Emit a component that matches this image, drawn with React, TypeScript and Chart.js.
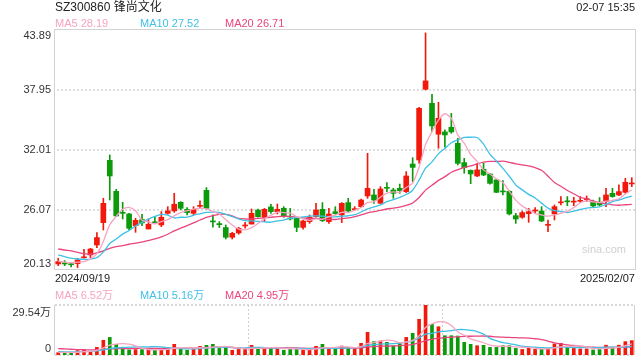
import React, { useEffect, useRef } from "react";
import { Chart, registerables } from "chart.js";

Chart.register(...registerables);

const FONT = '"Liberation Sans", Arial, "Noto Sans CJK SC", sans-serif';

const dates = [
  "2024/09/19", "2024/09/20", "2024/09/23", "2024/09/24", "2024/09/25", "2024/09/26", "2024/09/27", "2024/09/30",
  "2024/10/08", "2024/10/09", "2024/10/10", "2024/10/11", "2024/10/14", "2024/10/15", "2024/10/16", "2024/10/17",
  "2024/10/18", "2024/10/21", "2024/10/22", "2024/10/23", "2024/10/24", "2024/10/25", "2024/10/28", "2024/10/29",
  "2024/10/30", "2024/10/31", "2024/11/01", "2024/11/04", "2024/11/05", "2024/11/06", "2024/11/07", "2024/11/08",
  "2024/11/11", "2024/11/12", "2024/11/13", "2024/11/14", "2024/11/15", "2024/11/18", "2024/11/19", "2024/11/20",
  "2024/11/21", "2024/11/22", "2024/11/25", "2024/11/26", "2024/11/27", "2024/11/28", "2024/11/29", "2024/12/02",
  "2024/12/03", "2024/12/04", "2024/12/05", "2024/12/06", "2024/12/09", "2024/12/10", "2024/12/11", "2024/12/12",
  "2024/12/13", "2024/12/16", "2024/12/17", "2024/12/18", "2024/12/19", "2024/12/20", "2024/12/23", "2024/12/24",
  "2024/12/25", "2024/12/26", "2024/12/27", "2024/12/30", "2024/12/31", "2025/01/02", "2025/01/03", "2025/01/06",
  "2025/01/07", "2025/01/08", "2025/01/09", "2025/01/10", "2025/01/13", "2025/01/14", "2025/01/15", "2025/01/16",
  "2025/01/17", "2025/01/20", "2025/01/21", "2025/01/22", "2025/01/23", "2025/01/24", "2025/01/27", "2025/02/05",
  "2025/02/06", "2025/02/07",
];

const opens = [
  20.73, 20.86, 20.70, 20.76, 21.34, 21.62, 22.61, 24.82, 30.99, 27.92,
  25.84, 25.68, 24.52, 25.12, 24.19, 24.85, 24.59, 25.74, 25.98, 26.83,
  26.14, 25.74, 26.43, 28.02, 24.95, 24.72, 24.33, 23.37, 23.80, 24.49,
  24.68, 26.07, 25.35, 26.37, 25.91, 26.24, 25.22, 25.25, 24.35, 24.92,
  25.41, 26.14, 24.92, 25.90, 25.58, 26.80, 26.10, 26.40, 27.46, 27.56,
  26.73, 28.29, 28.05, 28.22, 27.89, 30.62, 31.02, 38.02, 36.63, 33.57,
  33.80, 34.26, 32.67, 30.76, 30.00, 29.44, 30.10, 29.64, 29.05, 27.90,
  27.92, 25.51, 25.35, 25.71, 25.97, 25.97, 24.55, 25.68, 26.78, 26.93,
  26.85, 26.93, 27.10, 26.90, 26.83, 26.90, 27.72, 27.56, 27.82, 28.65,
];
const highs = [
  21.29, 21.06, 20.89, 21.29, 22.18, 22.28, 23.83, 27.23, 31.52, 28.12,
  26.83, 25.74, 25.25, 25.65, 25.18, 25.41, 25.91, 26.40, 27.73, 26.90,
  26.31, 26.40, 26.97, 28.29, 25.58, 24.92, 24.59, 23.86, 24.36, 24.85,
  26.17, 26.17, 26.23, 26.63, 26.66, 26.40, 26.23, 25.35, 25.08, 25.58,
  26.73, 26.80, 26.23, 26.40, 26.80, 27.23, 26.40, 27.16, 31.68, 28.12,
  28.38, 28.78, 28.22, 28.64, 29.87, 31.25, 36.23, 43.60, 37.53, 36.73,
  34.00, 35.64, 33.17, 31.19, 30.04, 30.69, 30.69, 29.71, 29.11, 28.98,
  27.99, 25.74, 25.97, 26.24, 26.30, 26.40, 25.08, 26.57, 27.40, 27.40,
  27.33, 27.40, 27.46, 27.06, 27.30, 28.22, 28.22, 28.55, 29.21, 29.27,
];
const lows = [
  20.56, 20.56, 20.43, 20.37, 21.29, 21.36, 22.35, 24.09, 27.06, 25.42,
  25.18, 24.09, 23.86, 24.52, 24.19, 24.75, 24.42, 25.65, 25.84, 26.08,
  25.58, 25.58, 26.24, 26.17, 24.36, 24.33, 23.20, 23.20, 23.67, 24.26,
  24.68, 25.35, 24.91, 25.74, 25.67, 25.35, 25.08, 23.92, 24.16, 24.75,
  25.35, 24.92, 24.75, 25.64, 24.82, 25.90, 26.00, 26.33, 27.23, 26.73,
  26.73, 27.88, 27.23, 27.72, 27.79, 28.88, 30.69, 37.96, 33.83, 32.18,
  32.30, 33.66, 30.53, 29.71, 28.68, 29.38, 29.47, 28.62, 27.79, 27.56,
  25.58, 24.75, 25.25, 24.85, 25.74, 24.92, 23.93, 25.08, 26.57, 26.50,
  26.50, 26.83, 26.90, 26.40, 26.50, 26.40, 27.33, 27.50, 27.72, 28.38,
];
const closes = [
  20.96, 20.73, 20.65, 21.12, 21.39, 22.21, 23.34, 26.73, 29.44, 25.48,
  25.74, 24.26, 25.05, 24.79, 24.66, 24.80, 25.35, 25.98, 26.64, 26.24,
  25.81, 26.14, 26.47, 26.24, 24.89, 24.62, 23.37, 23.76, 24.26, 24.52,
  25.74, 25.41, 26.14, 25.91, 26.14, 25.41, 25.18, 24.35, 24.98, 25.35,
  26.07, 25.02, 25.67, 25.71, 26.73, 25.97, 26.14, 27.06, 28.22, 27.06,
  28.15, 28.22, 27.72, 27.99, 29.44, 30.29, 36.14, 38.85, 34.39, 35.15,
  33.50, 33.80, 30.69, 30.27, 29.64, 30.04, 29.54, 28.71, 27.82, 27.86,
  25.68, 25.18, 25.81, 25.91, 26.00, 24.98, 24.59, 26.40, 26.80, 26.88,
  26.90, 26.97, 27.13, 26.47, 26.57, 27.56, 27.40, 27.89, 28.81, 28.71,
];

const ma5 = [
  21.00, 20.90, 20.85, 20.90, 20.97, 21.22, 21.74, 22.96, 24.62, 25.44,
  26.15, 26.33, 25.99, 25.06, 24.90, 24.71, 24.93, 25.12, 25.49, 25.80,
  26.00, 26.16, 26.26, 26.18, 25.91, 25.67, 25.12, 24.58, 24.18, 24.11,
  24.33, 24.74, 25.21, 25.54, 25.87, 25.80, 25.76, 25.40, 25.21, 25.05,
  25.19, 25.15, 25.42, 25.56, 25.84, 25.82, 26.04, 26.32, 26.82, 26.89,
  27.33, 27.74, 27.87, 27.83, 28.30, 28.73, 30.32, 32.54, 33.82, 34.96,
  35.60, 35.14, 33.51, 32.68, 31.58, 30.89, 30.04, 29.64, 29.15, 28.79,
  27.92, 27.05, 26.47, 26.09, 25.72, 25.58, 25.46, 25.58, 25.75, 25.93,
  26.31, 26.79, 26.94, 26.87, 26.81, 26.94, 27.03, 27.18, 27.65, 28.07,
];
const ma10 = [
  21.62, 21.45, 21.30, 21.22, 21.18, 21.20, 21.35, 21.90, 22.75, 23.20,
  23.68, 24.04, 24.48, 24.84, 25.17, 25.43, 25.63, 25.56, 25.28, 25.35,
  25.36, 25.55, 25.69, 25.83, 25.86, 25.84, 25.64, 25.42, 25.18, 25.01,
  25.00, 24.93, 24.90, 24.86, 24.99, 25.07, 25.25, 25.31, 25.38, 25.46,
  25.49, 25.46, 25.41, 25.39, 25.45, 25.50, 25.60, 25.87, 26.19, 26.37,
  26.57, 26.89, 27.10, 27.33, 27.60, 28.03, 29.03, 30.21, 30.83, 31.63,
  32.17, 32.73, 33.02, 33.25, 33.27, 33.25, 32.59, 31.57, 30.92, 30.19,
  29.41, 28.54, 28.06, 27.62, 27.26, 26.75, 26.25, 26.02, 25.92, 25.82,
  25.95, 26.12, 26.26, 26.31, 26.37, 26.63, 26.91, 27.06, 27.26, 27.44,
];
const ma20 = [
  22.21, 22.11, 22.02, 21.88, 21.75, 21.69, 21.82, 22.02, 22.28, 22.45,
  22.54, 22.68, 22.78, 22.91, 23.04, 23.20, 23.40, 23.67, 24.00, 24.28,
  24.52, 24.79, 25.08, 25.34, 25.51, 25.63, 25.64, 25.49, 25.23, 25.18,
  25.18, 25.24, 25.29, 25.35, 25.42, 25.45, 25.44, 25.36, 25.28, 25.23,
  25.25, 25.19, 25.15, 25.13, 25.22, 25.28, 25.42, 25.59, 25.79, 25.91,
  26.03, 26.17, 26.25, 26.36, 26.52, 26.77, 27.31, 28.04, 28.51, 29.00,
  29.37, 29.81, 30.06, 30.29, 30.43, 30.64, 30.81, 30.89, 30.87, 30.91,
  30.79, 30.64, 30.54, 30.44, 30.26, 30.00, 29.42, 28.80, 28.42, 28.00,
  27.68, 27.33, 27.16, 26.97, 26.81, 26.69, 26.58, 26.54, 26.59, 26.63,
];

// volume in 万
const volumes = [
  1.4, 1.4, 1.4, 2.6, 3.3, 2.0, 4.5, 8.7, 10.4, 6.3,
  3.9, 3.0, 3.2, 3.2, 3.0, 2.8, 3.5, 4.3, 6.3, 3.9,
  2.8, 3.3, 5.1, 5.7, 6.3, 3.9, 4.7, 2.8, 3.3, 3.5,
  5.7, 4.1, 4.1, 4.1, 4.1, 2.8, 3.5, 3.5, 2.8, 3.3,
  5.1, 6.3, 4.1, 3.9, 5.3, 4.3, 4.3, 6.9, 13.4, 7.9,
  8.3, 7.5, 5.3, 7.3, 10.4, 12.8, 21.1, 29.54, 18.1, 16.7,
  11.4, 11.4, 11.2, 7.5, 6.3, 5.5, 5.7, 4.5, 4.5, 5.5,
  5.5, 3.9, 3.3, 4.1, 3.3, 3.3, 3.9, 6.5, 6.9, 4.9,
  4.3, 3.6, 3.6, 3.0, 3.5, 5.8, 4.6, 5.8, 7.9, 8.5,
];
const volMa5 = [
  1.6, 1.5, 1.5, 1.6, 2.02, 2.14, 2.76, 4.22, 5.78, 6.38,
  6.76, 6.46, 5.36, 3.92, 3.26, 3.04, 3.14, 3.36, 3.98, 4.16,
  4.16, 4.12, 4.28, 4.16, 4.64, 4.86, 5.14, 4.68, 4.2, 3.64,
  4.0, 3.88, 4.14, 4.3, 4.42, 3.84, 3.72, 3.6, 3.34, 3.18,
  3.64, 4.2, 4.32, 4.54, 4.94, 4.78, 4.38, 4.94, 6.84, 7.36,
  8.16, 8.8, 8.48, 7.26, 7.76, 8.66, 11.38, 16.23, 18.39, 19.65,
  19.37, 17.43, 13.76, 11.64, 9.56, 8.38, 7.24, 5.9, 5.3, 5.14,
  5.14, 4.78, 4.54, 4.46, 4.02, 3.58, 3.58, 4.22, 4.78, 5.1,
  5.3, 5.24, 4.66, 3.88, 3.6, 3.9, 4.1, 4.54, 5.52, 6.52,
];
const volMa10 = [
  2.0, 1.9, 1.9, 1.9, 2.0, 2.1, 2.4, 3.0, 3.8, 4.2,
  4.45, 4.61, 4.79, 4.85, 4.82, 4.9, 4.8, 4.36, 3.95, 3.71,
  3.6, 3.63, 3.82, 4.07, 4.4, 4.51, 4.63, 4.48, 4.18, 4.14,
  4.43, 4.51, 4.41, 4.25, 4.03, 3.92, 3.8, 3.87, 3.82, 3.8,
  3.74, 3.96, 3.96, 3.94, 4.06, 4.21, 4.29, 4.63, 5.69, 6.15,
  6.47, 6.59, 6.71, 7.05, 7.56, 8.41, 10.09, 12.35, 12.82, 13.7,
  14.01, 14.4, 14.99, 15.01, 14.6, 13.87, 12.33, 9.83, 8.47, 7.35,
  6.76, 6.01, 5.22, 4.88, 4.58, 4.36, 4.18, 4.38, 4.62, 4.56,
  4.44, 4.41, 4.44, 4.33, 4.35, 4.6, 4.67, 4.6, 4.7, 5.06,
];
const volMa20 = [
  3.8, 3.6, 3.4, 3.2, 3.1, 3.0, 3.1, 3.3, 3.6, 3.7,
  3.8, 3.8, 3.9, 3.9, 3.9, 3.9, 3.9, 3.9, 4.0, 3.96,
  4.03, 4.12, 4.31, 4.46, 4.61, 4.71, 4.72, 4.42, 4.07, 3.93,
  4.02, 4.07, 4.12, 4.16, 4.22, 4.22, 4.22, 4.18, 4.0, 3.97,
  4.09, 4.24, 4.19, 4.1, 4.05, 4.07, 4.05, 4.25, 4.76, 4.98,
  5.11, 5.28, 5.34, 5.5, 5.81, 6.31, 7.19, 8.49, 9.26, 9.93,
  10.24, 10.5, 10.85, 11.03, 11.08, 11.14, 11.21, 11.09, 10.65, 10.53,
  10.39, 10.21, 10.11, 9.95, 9.59, 9.12, 8.26, 7.1, 6.55, 5.96,
  5.6, 5.21, 4.83, 4.61, 4.47, 4.48, 4.43, 4.49, 4.66, 4.81,
];

const priceTicks = [20.13, 26.07, 32.01, 37.95, 43.89];
const priceTickLabels = ["20.13", "26.07", "32.01", "37.95", "43.89"];
const volumeTicks = [0, 29.54];
const volumeTickLabels = ["0", "29.54万"];

const title = "SZ300860 锋尚文化";
const timeText = "02-07 15:35";
const priceLegend = [
  { name: "MA5", value: "28.19" },
  { name: "MA10", value: "27.52" },
  { name: "MA20", value: "26.71" },
];
const volumeLegend = [
  { name: "MA5", value: "6.52万" },
  { name: "MA10", value: "5.16万" },
  { name: "MA20", value: "4.95万" },
];

const UP = "#f2190c";
const DOWN = "#0a9a0a";
const MA5C = "#f6a4c1";
const MA10C = "#3fc1e6";
const MA20C = "#e9457e";
const LEG_COLORS = [MA5C, MA10C, MA20C];
const LEG_X = [55, 140, 225];

const candleColors = closes.map((c, i) => (c >= opens[i] ? UP : DOWN));

const mainFrame = {
  id: "mainFrame",
  beforeDatasetsDraw(chart: any) {
    const { ctx, chartArea: a } = chart;
    const y = chart.scales.y;
    ctx.save();
    ctx.setLineDash([2, 2]);
    ctx.strokeStyle = "#dedede";
    ctx.lineWidth = 2;
    priceTicks.slice(1, -1).forEach((v) => {
      const py = Math.round(y.getPixelForValue(v));
      ctx.beginPath();
      ctx.moveTo(a.left + 2, py);
      ctx.lineTo(a.right, py);
      ctx.stroke();
    });
    ctx.setLineDash([]);
    ctx.strokeStyle = "#d2d2d2";
    ctx.lineWidth = 1;
    ctx.strokeRect(
      Math.round(a.left) - 0.5,
      Math.round(a.top) - 0.5,
      Math.round(a.right - a.left) + 1,
      Math.round(a.bottom - a.top)
    );
    ctx.fillStyle = "#333";
    ctx.font = "11px " + FONT;
    ctx.textAlign = "right";
    priceTicks.forEach((v, k) => {
      const py = y.getPixelForValue(v);
      const label = priceTickLabels[k];
      if (k === priceTicks.length - 1) {
        ctx.textBaseline = "top";
        ctx.fillText(label, a.left - 4, py);
      } else if (k === 0) {
        ctx.textBaseline = "alphabetic";
        ctx.fillText(label, a.left - 4, py - 3);
      } else {
        ctx.textBaseline = "middle";
        ctx.fillText(label, a.left - 4, py);
      }
    });
    ctx.restore();
  },
};

const volFrame = {
  id: "volFrame",
  beforeDatasetsDraw(chart: any) {
    const { ctx, chartArea: a } = chart;
    const y = chart.scales.y;
    ctx.save();
    ctx.setLineDash([2, 2]);
    ctx.strokeStyle = "#d8d8d8";
    ctx.lineWidth = 2;
    [a.top, a.bottom].forEach((py) => {
      ctx.beginPath();
      ctx.moveTo(a.left, Math.round(py));
      ctx.lineTo(a.right, Math.round(py));
      ctx.stroke();
    });
    ctx.lineWidth = 1;
    ctx.strokeStyle = "#cfcfcf";
    [1, 2].forEach((k) => {
      const px = Math.round(a.left + ((a.right - a.left) * k) / 3) + 0.5;
      ctx.beginPath();
      ctx.moveTo(px, a.top);
      ctx.lineTo(px, a.bottom);
      ctx.stroke();
    });
    ctx.setLineDash([]);
    ctx.strokeStyle = "#d2d2d2";
    [a.left, a.right].forEach((px) => {
      ctx.beginPath();
      ctx.moveTo(Math.round(px) - 0.5, a.top);
      ctx.lineTo(Math.round(px) - 0.5, a.bottom);
      ctx.stroke();
    });
    ctx.fillStyle = "#333";
    ctx.font = "11px " + FONT;
    ctx.textAlign = "right";
    volumeTicks.forEach((v, k) => {
      const py = y.getPixelForValue(v);
      if (k === 0) {
        ctx.textBaseline = "alphabetic";
        ctx.fillText(volumeTickLabels[k], a.left - 4, py - 3);
      } else {
        ctx.textBaseline = "top";
        ctx.fillText(volumeTickLabels[k], a.left - 4, py + 2);
      }
    });
    ctx.restore();
  },
};

function lineDs(data: number[], color: string, tension: number) {
  return {
    type: "line" as const,
    data,
    borderColor: color,
    borderWidth: 1.3,
    pointRadius: 0,
    tension,
    fill: false,
    order: 0,
  };
}

export default function App() {
  const mainRef = useRef<HTMLCanvasElement>(null);
  const volRef = useRef<HTMLCanvasElement>(null);

  useEffect(() => {
    document.body.style.margin = "0";
    const main = new Chart(mainRef.current as HTMLCanvasElement, {
      type: "bar",
      data: {
        labels: dates,
        datasets: [
          lineDs(ma5, MA5C, 0.25),
          lineDs(ma10, MA10C, 0.25),
          lineDs(ma20, MA20C, 0.25),
          {
            type: "bar",
            data: opens.map((o, i) => [o, closes[i]]),
            backgroundColor: candleColors,
            barThickness: 5,
            minBarLength: 1,
            grouped: false,
            order: 1,
          } as any,
          {
            type: "bar",
            data: lows.map((l, i) => [l, highs[i]]),
            backgroundColor: candleColors,
            barThickness: 1,
            grouped: false,
            order: 2,
          } as any,
        ],
      },
      options: {
        responsive: false,
        animation: false,
        devicePixelRatio: 1,
        layout: { padding: { left: 55, right: 5, top: 30, bottom: 5 } },
        plugins: { legend: { display: false }, tooltip: { enabled: false } },
        scales: {
          x: { type: "category", offset: true, display: false },
          y: { type: "linear", min: priceTicks[0], max: priceTicks[priceTicks.length - 1], display: false },
        },
      },
      plugins: [mainFrame],
    });

    const vol = new Chart(volRef.current as HTMLCanvasElement, {
      type: "bar",
      data: {
        labels: dates,
        datasets: [
          lineDs(volMa5, MA5C, 0.4),
          lineDs(volMa10, MA10C, 0.4),
          lineDs(volMa20, MA20C, 0.4),
          {
            type: "bar",
            data: volumes,
            backgroundColor: candleColors,
            barThickness: 3,
            order: 1,
          } as any,
        ],
      },
      options: {
        responsive: false,
        animation: false,
        devicePixelRatio: 1,
        layout: { padding: { left: 55, right: 5, top: 25, bottom: 5 } },
        plugins: { legend: { display: false }, tooltip: { enabled: false } },
        scales: {
          x: { type: "category", offset: true, display: false },
          y: { type: "linear", min: volumeTicks[0], max: volumeTicks[1], display: false },
        },
      },
      plugins: [volFrame],
    });

    return () => {
      main.destroy();
      vol.destroy();
    };
  }, []);

  const txt = (extra: React.CSSProperties): React.CSSProperties => ({
    position: "absolute",
    fontSize: 11,
    lineHeight: "15px",
    whiteSpace: "nowrap",
    color: "#333",
    ...extra,
  });

  return (
    <div style={{ position: "relative", width: 640, height: 360, background: "#fff", fontFamily: FONT, overflow: "hidden" }}>
      <canvas ref={mainRef} width={640} height={275} style={{ position: "absolute", left: 0, top: 0 }} />
      <canvas ref={volRef} width={640} height={80} style={{ position: "absolute", left: 0, top: 280 }} />
      <div style={txt({ left: 55, top: 0, fontSize: 12, color: "#222" })}>{title}</div>
      <div style={txt({ right: 5, top: 0, color: "#222" })}>{timeText}</div>
      {priceLegend.map((l, k) => (
        <div key={"p" + k} style={txt({ left: LEG_X[k], top: 16, color: LEG_COLORS[k] })}>
          {l.name} {l.value}
        </div>
      ))}
      <div style={txt({ left: 582, top: 242, color: "#d0d0d0" })}>sina.com</div>
      <div style={txt({ left: 55, top: 271, color: "#222" })}>{dates[0]}</div>
      <div style={txt({ right: 5, top: 271, color: "#222" })}>{dates[dates.length - 1]}</div>
      {volumeLegend.map((l, k) => (
        <div key={"v" + k} style={txt({ left: LEG_X[k], top: 288, color: LEG_COLORS[k] })}>
          {l.name} {l.value}
        </div>
      ))}
    </div>
  );
}
